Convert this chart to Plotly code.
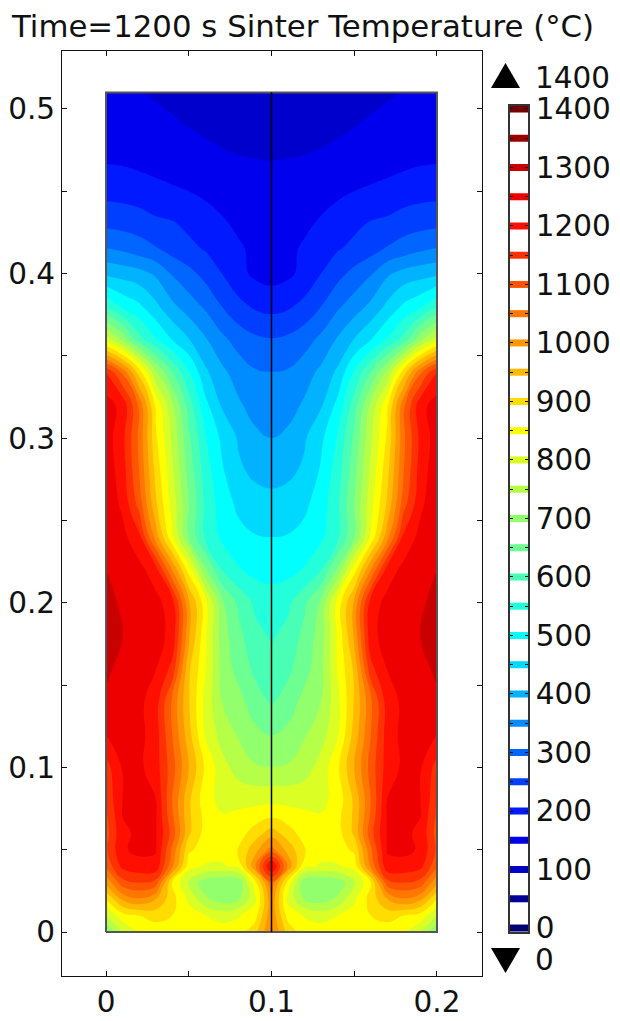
import plotly.graph_objects as go

# half-domain temperature samples, mirrored about x = 0.1
x_half = [0, .01, .02, .03, .04, .05, .06, .07, .08, .09, .1]
y_rows = [0, .01, .02, .03, .04, .05, .06, .07, .08, .10, .12, .14, .16, .18, .20, .22, .24, .26, .28, .30, .32,
          .34, .36, .38, .40, .415, .43, .45, .47, .49, .51]
temp_rows = [
    [700, 800, 850, 870, 875, 875, 875, 875, 880, 930, 1060],
    [800, 880, 900, 920, 900, 870, 850, 830, 845, 880, 1040],
    [900, 1010, 1045, 1000, 920, 840, 760, 725, 745, 835, 1040],
    [1010, 1130, 1150, 1130, 900, 790, 720, 700, 710, 880, 1090],
    [1110, 1215, 1235, 1235, 1060, 870, 845, 845, 860, 1040, 1265],
    [1140, 1245, 1260, 1255, 1090, 910, 875, 865, 905, 980, 1070],
    [1130, 1240, 1260, 1255, 1130, 960, 880, 860, 875, 925, 975],
    [1140, 1250, 1260, 1255, 1110, 960, 885, 855, 862, 875, 895],
    [1160, 1250, 1258, 1252, 1100, 960, 870, 835, 835, 836, 837],
    [1180, 1255, 1260, 1225, 1120, 1000, 890, 820, 778, 755, 752],
    [1250, 1275, 1265, 1225, 1100, 970, 845, 780, 745, 715, 697],
    [1290, 1280, 1262, 1225, 1090, 955, 835, 750, 720, 670, 645],
    [1310, 1285, 1265, 1252, 1185, 960, 855, 735, 680, 640, 615],
    [1320, 1300, 1280, 1270, 1235, 1010, 860, 725, 665, 615, 595],
    [1310, 1295, 1275, 1265, 1225, 1010, 870, 710, 640, 590, 575],
    [1300, 1280, 1265, 1225, 1050, 880, 710, 600, 555, 535, 530],
    [1285, 1265, 1215, 1030, 860, 700, 590, 540, 515, 503, 500],
    [1285, 1240, 1130, 960, 830, 700, 590, 525, 490, 470, 465],
    [1280, 1225, 1100, 935, 810, 680, 575, 507, 458, 440, 433],
    [1275, 1215, 1090, 910, 790, 660, 555, 490, 445, 412, 400],
    [1270, 1235, 1090, 890, 760, 625, 515, 445, 408, 380, 372],
    [1200, 1090, 930, 760, 650, 555, 460, 412, 378, 355, 351],
    [825, 735, 620, 555, 498, 452, 405, 362, 330, 310, 303],
    [595, 540, 510, 462, 412, 375, 342, 300, 265, 243, 234],
    [440, 430, 418, 392, 345, 315, 283, 250, 215, 190, 180],
    [352, 340, 322, 305, 280, 262, 246, 230, 208, 188, 175],
    [290, 285, 278, 262, 255, 240, 225, 208, 190, 176, 170],
    [233, 230, 222, 214, 207, 200, 190, 178, 170, 165, 163],
    [193, 191, 186, 180, 173, 167, 161, 156, 152, 150, 149],
    [185, 178, 170, 163, 155, 149, 143, 137, 132, 129, 128],
    [172, 165, 151, 145, 140, 135, 132, 128, 125, 123, 122],
]
boundary_x = [0, .2, .2, 0, 0]
boundary_y = [0, 0, .51, .51, 0]
symmetry_x = [.1, .1]
symmetry_y = [0, .51]
bar_levels = list(range(0, 1401, 50))
bar_ticktext = [str(v) if v % 100 == 0 else "" for v in bar_levels]
x_tickvals = [0, .05, .1, .15, .2]
x_ticktext = ["0", "", "0.1", "", "0.2"]
y_tickvals = [0, .05, .1, .15, .2, .25, .3, .35, .4, .45, .5]
y_ticktext = ["0", "", "0.1", "", "0.2", "", "0.3", "", "0.4", "", "0.5"]
title_text = "Time=1200 s Sinter Temperature (°C)"

stops = [(0, (0, 0, 120)), (25, (0, 0, 120)), (75, (0, 0, 155)), (125, (0, 0, 205)), (175, (0, 0, 238)), (225, (0, 25, 255)),
         (525, (0, 255, 255)), (875, (255, 255, 0)), (1225, (255, 15, 0)), (1275, (238, 0, 0)),
         (1325, (200, 0, 0)), (1375, (155, 0, 0)), (1400, (115, 0, 0))]
colorscale = [[v / 1400, "rgb(%d,%d,%d)" % c] for v, c in stops]

W, H = 620, 1021
FONT = "DejaVu Sans"
TICK = 29.5
INK = "#111"


def px(a, b):
    return [a / W, b / W]


def py(top, bottom):
    return [1 - bottom / H, 1 - top / H]


x_full = x_half + [round(.2 - v, 3) for v in reversed(x_half[:-1])]
z_full = [r + list(reversed(r[:-1])) for r in temp_rows]

fig = go.Figure()
fig.add_trace(go.Contour(x=x_full, y=y_rows, z=z_full, zmin=0, zmax=1400, colorscale=colorscale, showscale=False,
                         autocontour=False, contours=dict(start=0, end=1400, size=50, coloring="fill"),
                         line=dict(width=0, smoothing=1.3), hoverinfo="skip"))
fig.add_trace(go.Scatter(x=boundary_x, y=boundary_y, mode="lines", line=dict(color="#555", width=2), showlegend=False))
fig.add_trace(go.Scatter(x=symmetry_x, y=symmetry_y, mode="lines", line=dict(color="#000", width=1.5), showlegend=False))
fig.add_trace(go.Bar(x=[1] * len(bar_levels), y=bar_levels, orientation="h", width=12, xaxis="x2", yaxis="y2",
                     marker=dict(color=[v + 25 for v in bar_levels], colorscale=colorscale, cmin=0, cmax=1400, line=dict(width=0)),
                     showlegend=False))

frame = dict(showgrid=False, zeroline=False, showline=True, linecolor=INK, linewidth=1, mirror="ticks",
             ticks="inside", ticklen=5, tickcolor=INK, tickfont=dict(family=FONT, size=TICK, color=INK))
fig.update_layout(
    width=W, height=H, margin=dict(l=0, r=0, t=0, b=0, pad=0, autoexpand=False), paper_bgcolor="white", plot_bgcolor="white",
    showlegend=False, font=dict(family=FONT, color=INK),
    title=dict(text=title_text, x=12 / W, xanchor="left", y=1 - 26 / H, yanchor="middle",
               font=dict(family=FONT, size=30.8, color=INK)),
    xaxis=dict(domain=px(62, 482), range=[-.0266, .2272], tickmode="array", tickvals=x_tickvals,
               ticktext=x_ticktext, anchor="y", **frame),
    yaxis=dict(domain=py(51, 976), range=[-.0267, .5352], tickmode="array", tickvals=y_tickvals,
               ticktext=y_ticktext, anchor="x", **frame),
    xaxis2=dict(domain=px(510, 528), range=[0, 1], showticklabels=False, ticks="", showgrid=False, zeroline=False,
                showline=True, linecolor="#333", linewidth=1.5, mirror=True, anchor="y2"),
    yaxis2=dict(domain=py(105.7, 932), range=[-6.8, 1405.5], side="right", tickmode="array", tickvals=bar_levels,
                ticktext=bar_ticktext, showgrid=False, zeroline=False, showline=True, linecolor="#333", linewidth=1.5,
                mirror="ticks", ticks="inside", ticklen=3, tickcolor="#111",
                tickfont=dict(family=FONT, size=TICK, color=INK), anchor="x2"),
    shapes=[
        dict(type="path", xref="paper", yref="paper", fillcolor="#000", line=dict(width=0),
             path="M %f %f L %f %f L %f %f Z" % (491 / W, 1 - 88 / H, 520 / W, 1 - 88 / H, 505.5 / W, 1 - 63 / H)),
        dict(type="path", xref="paper", yref="paper", fillcolor="#000", line=dict(width=0),
             path="M %f %f L %f %f L %f %f Z" % (491 / W, 1 - 948 / H, 520 / W, 1 - 948 / H, 505.5 / W, 1 - 973 / H)),
    ],
    annotations=[
        dict(text="1400", xref="paper", yref="paper", x=533 / W, y=1 - 78 / H, xanchor="left", yanchor="middle",
             showarrow=False, font=dict(family=FONT, size=TICK, color=INK)),
        dict(text="0", xref="paper", yref="paper", x=533 / W, y=1 - 960 / H, xanchor="left", yanchor="middle",
             showarrow=False, font=dict(family=FONT, size=TICK, color=INK)),
    ],
)
fig.write_html("out.html", config=dict(displayModeBar=False), post_script="document.body.style.margin='0';")
